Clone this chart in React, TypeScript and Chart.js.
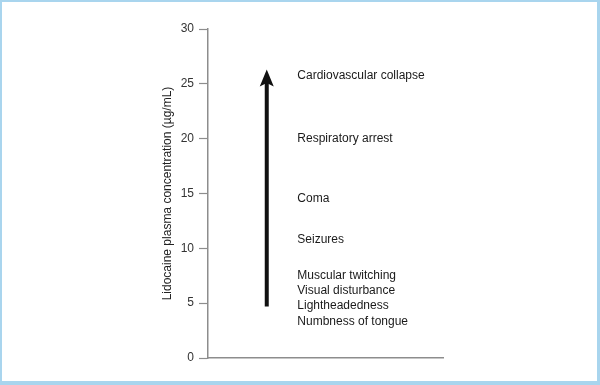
import React, { useEffect, useRef } from "react";
import { Chart, registerables } from "chart.js";

Chart.register(...registerables);

// ---- data ----
const Y_TICKS = [0, 5, 10, 15, 20, 25, 30];
const Y_TITLE = "Lidocaine plasma concentration (\u00b5g/mL)";
const SYMPTOMS = [
  "Cardiovascular collapse",
  "Respiratory arrest",
  "Coma",
  "Seizures",
  "Muscular twitching",
  "Visual disturbance",
  "Lightheadedness",
  "Numbness of tongue",
];
const SYMPTOM_LEVELS = [25.75, 20.0, 14.5, 10.8, 7.55, 6.15, 4.75, 3.35];
const ARROW_X = 1;
const LABEL_X = 1.52;
const ARROW_FROM = 4.7;
const ARROW_SHAFT_TO = 25.2;
const ARROW_TIP = 26.3;

const FONT = "Arial, 'Liberation Sans', Helvetica, sans-serif";
const AXIS_GRAY = "#8d8d8d";
const FRAME_BLUE = "#a9d5ee";

export default function App() {
  const ref = useRef<HTMLCanvasElement | null>(null);

  useEffect(() => {
    if (!ref.current) return;

    const framePlugin = {
      id: "frame",
      beforeDraw(chart: any) {
        const { ctx, width, height } = chart;
        ctx.save();
        ctx.fillStyle = "#ffffff";
        ctx.fillRect(0, 0, width, height);
        ctx.fillStyle = FRAME_BLUE;
        ctx.fillRect(0, 0, width, 2);
        ctx.fillRect(0, 0, 2, height);
        ctx.fillRect(width - 3, 0, 3, height);
        ctx.fillRect(0, height - 4, width, 4);
        ctx.restore();
      },
    };

    const annotPlugin = {
      id: "annot",
      afterDatasetsDraw(chart: any) {
        const { ctx } = chart;
        const xs = chart.scales.x;
        const ys = chart.scales.y;
        ctx.save();
        // arrow head
        const ax = xs.getPixelForValue(ARROW_X);
        const ay = ys.getPixelForValue(ARROW_TIP);
        ctx.fillStyle = "#111111";
        ctx.beginPath();
        ctx.moveTo(ax, ay);
        ctx.lineTo(ax + 7, ay + 17);
        ctx.lineTo(ax, ay + 13.5);
        ctx.lineTo(ax - 7, ay + 17);
        ctx.closePath();
        ctx.fill();
        // labels
        ctx.fillStyle = "#1a1a1a";
        ctx.font = `12px ${FONT}`;
        ctx.textAlign = "left";
        ctx.textBaseline = "middle";
        const lx = xs.getPixelForValue(LABEL_X);
        SYMPTOMS.forEach((s, i) => {
          ctx.fillText(s, lx, ys.getPixelForValue(SYMPTOM_LEVELS[i]));
        });
        ctx.restore();
      },
    };

    const chart = new Chart(ref.current, {
      type: "line",
      data: {
        datasets: [
          {
            data: [
              { x: ARROW_X, y: ARROW_FROM },
              { x: ARROW_X, y: ARROW_SHAFT_TO },
            ],
            borderColor: "#111111",
            borderWidth: 4,
            pointRadius: 0,
            borderCapStyle: "butt",
          },
        ],
      },
      options: {
        responsive: false,
        animation: false,
        layout: { padding: { left: 160, right: 157, top: 29, bottom: 27 } },
        plugins: {
          legend: { display: false },
          tooltip: { enabled: false },
        },
        scales: {
          x: {
            type: "linear",
            min: 0,
            max: 4,
            ticks: { display: false },
            grid: { display: false },
            border: { display: true, color: AXIS_GRAY, width: 1.5 },
            afterFit(scale: any) {
              scale.height = 0;
            },
          },
          y: {
            type: "linear",
            min: 0,
            max: 30,
            afterBuildTicks(scale: any) {
              scale.ticks = Y_TICKS.map((v) => ({ value: v }));
            },
            ticks: {
              color: "#333333",
              font: { family: FONT, size: 12 },
              padding: 5,
            },
            grid: {
              display: true,
              drawOnChartArea: false,
              drawTicks: true,
              tickLength: 9,
              tickColor: AXIS_GRAY,
              tickWidth: 1.2,
            },
            border: { display: true, color: AXIS_GRAY, width: 1.5 },
            title: {
              display: true,
              text: Y_TITLE,
              color: "#222222",
              font: { family: FONT, size: 12 },
              padding: 0,
            },
            afterFit(scale: any) {
              scale.width = 48;
            },
          },
        },
      },
      plugins: [framePlugin, annotPlugin],
    } as any);

    return () => chart.destroy();
  }, []);

  return (
    <div style={{ position: "absolute", left: 0, top: 0, width: 600, height: 385 }}>
      <canvas ref={ref} width={600} height={385} />
    </div>
  );
}
